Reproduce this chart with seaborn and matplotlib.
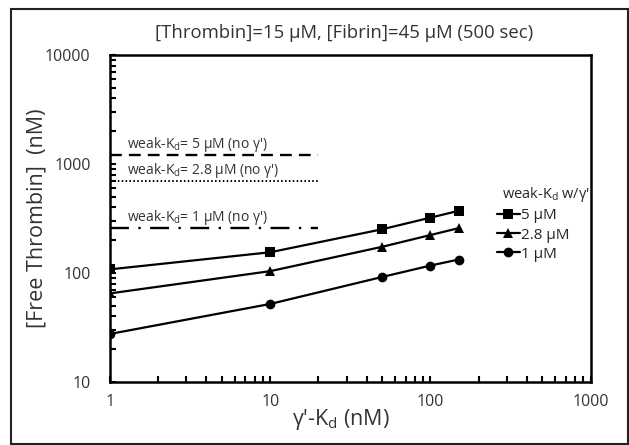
import matplotlib
matplotlib.use("Agg")
import matplotlib.pyplot as plt
import matplotlib.ticker as mticker
from matplotlib.patches import Rectangle
import seaborn as sns
import pandas as pd

# ---- data ----
gamma_kd = [1, 10, 50, 100, 150]
series_names = ["5 µM", "2.8 µM", "1 µM"]
free_5 = [108, 155, 252, 322, 372]
free_2_8 = [65, 104, 174, 223, 258]
free_1 = [27.6, 52, 92, 117, 133]
ref_x = [1, 20]
ref_labels = ["weak-K$_{\\rm d}$= 5 µM (no γ')",
              "weak-K$_{\\rm d}$= 2.8 µM (no γ')",
              "weak-K$_{\\rm d}$= 1 µM (no γ')"]
ref_values = [1200, 700, 257]
x_ticks = [1, 10, 100, 1000]
y_ticks = [10, 100, 1000, 10000]

sns.set_theme(style="ticks")
plt.rcParams["font.family"] = ["Open Sans", "DejaVu Sans"]
plt.rcParams["mathtext.fontset"] = "custom"
plt.rcParams["mathtext.rm"] = "Open Sans"
plt.rcParams["mathtext.it"] = "Open Sans:italic"

TXT = "#333333"

rows = []
for name, vals in zip(series_names, [free_5, free_2_8, free_1]):
    for x, y in zip(gamma_kd, vals):
        rows.append({"x": x, "y": y, "series": name})
df = pd.DataFrame(rows)

fig = plt.figure(figsize=(6.29, 4.45), dpi=100)
ax = fig.add_axes([110 / 629, 1 - 382 / 445, (590.7 - 110) / 629, (382 - 55) / 445])

sns.lineplot(data=df, x="x", y="y", style="series", style_order=series_names,
             markers={"5 µM": "s", "2.8 µM": "^", "1 µM": "o"}, dashes=False,
             color="black", linewidth=1.6, markersize=7, markeredgewidth=0,
             ax=ax)

line_styles = [(0, (5, 3)), (0, (0.8, 1.2)), (0, (8, 4, 1, 4))]
line_widths = [1.7, 1.4, 1.7]
for lab, val, ls, lw in zip(ref_labels, ref_values, line_styles, line_widths):
    ax.plot(ref_x, [val, val], color="black", linewidth=lw, linestyle=ls)
    ax.annotate(lab, xy=(1.28, val), xytext=(0, 7.5), textcoords="offset points",
                fontsize=10, ha="left", va="center", color=TXT)

ax.set_xscale("log")
ax.set_yscale("log")
ax.set_xlim(1, 1000)
ax.set_ylim(10, 10000)
ax.set_xticks(x_ticks)
ax.set_xticklabels([str(t) for t in x_ticks])
ax.set_yticks(y_ticks)
ax.set_yticklabels([str(t) for t in y_ticks])
ax.xaxis.set_minor_locator(mticker.LogLocator(base=10, subs=range(2, 10)))
ax.yaxis.set_minor_locator(mticker.LogLocator(base=10, subs=range(2, 10)))
ax.xaxis.set_minor_formatter(mticker.NullFormatter())
ax.yaxis.set_minor_formatter(mticker.NullFormatter())
ax.tick_params(axis="both", which="both", direction="in", length=4, width=1.5,
               colors="black", labelcolor=TXT)
ax.tick_params(axis="x", which="major", pad=9, labelsize=11.5)
ax.tick_params(axis="y", which="major", pad=14, labelsize=11.5)
for sp in ax.spines.values():
    sp.set_visible(True)
    sp.set_linewidth(1.8)
    sp.set_color("black")

ax.set_xlabel("γ'-K$_{\\rm d}$ (nM)", fontsize=15.5, color=TXT)
ax.xaxis.set_label_coords((340.5 - 110) / (590.7 - 110), -(419 - 382) / 327, transform=ax.transAxes)
ax.xaxis.label.set_va("center")
ax.set_ylabel("[Free Thrombin]  (nM)", fontsize=15.5, color=TXT)
ax.yaxis.set_label_coords(-(110 - 37) / 480.7, 0.5, transform=ax.transAxes)
ax.yaxis.label.set_va("center")
fig.text(344 / 629, 1 - 33 / 445, "[Thrombin]=15 µM, [Fibrin]=45 µM (500 sec)",
         fontsize=13.3, ha="center", va="center", color=TXT)

handles, labels = ax.get_legend_handles_labels()
leg = ax.legend(handles, labels, title="weak-K$_{\\rm d}$ w/γ'", frameon=False,
                loc="upper left", bbox_to_anchor=((497 - 110) / 480.7, (382 - 185) / 327),
                fontsize=11, title_fontsize=10.5, handlelength=1.5, handletextpad=0.05,
                labelspacing=0.28, borderaxespad=0, borderpad=0)
leg._legend_box.align = "left"
leg.get_title().set_position((5, 0))

fig.patches.append(Rectangle((11 / 629, 1 / 445), (628 - 11) / 629, (444 - 9) / 445,
                             transform=fig.transFigure, fill=False,
                             edgecolor="#222222", linewidth=1.5))

fig.savefig("out.png", dpi=100)
